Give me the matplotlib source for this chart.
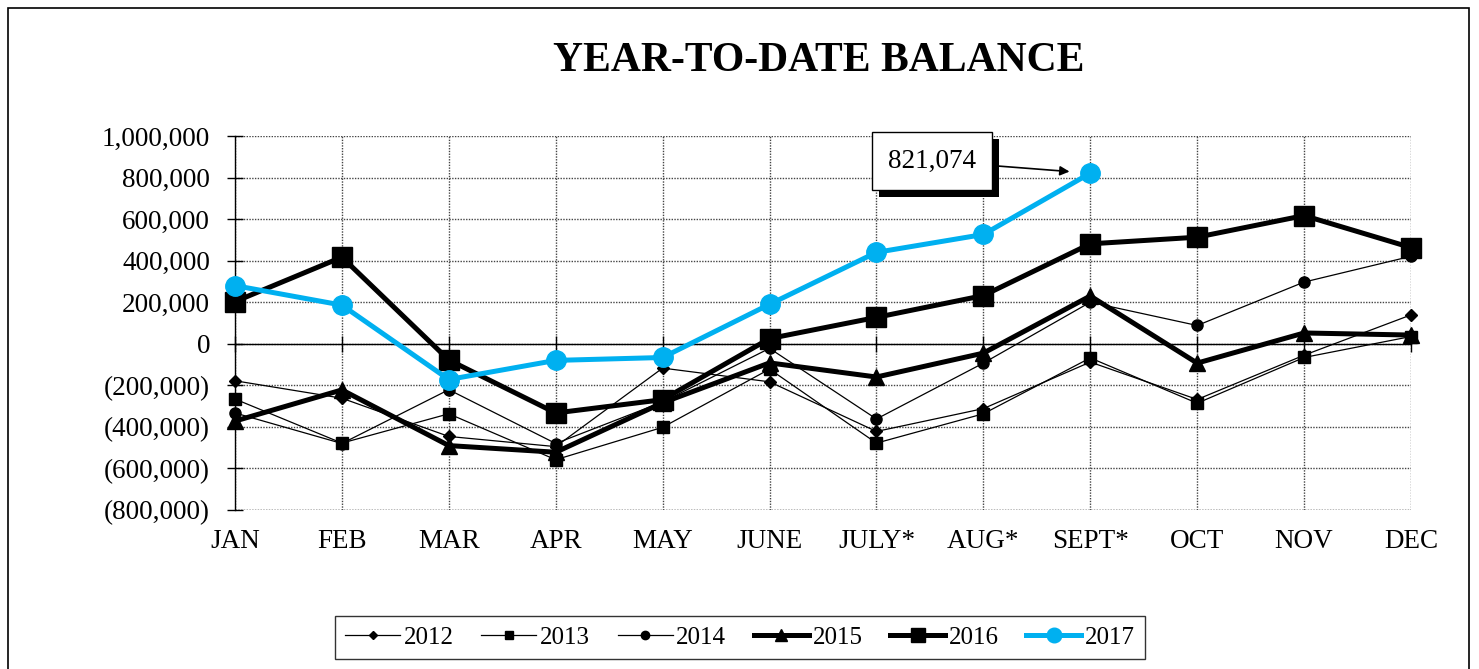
import matplotlib
matplotlib.use("Agg")
import matplotlib.pyplot as plt
import matplotlib.transforms as mtransforms
import matplotlib.patheffects as pe
from matplotlib.patches import Rectangle
from matplotlib.ticker import FuncFormatter

months = ['JAN', 'FEB', 'MAR', 'APR', 'MAY', 'JUNE', 'JULY*', 'AUG*', 'SEPT*', 'OCT', 'NOV', 'DEC']

y2012 = [-178000, -262000, -446000, -495000, -117000, -183000, -422000, -312000, -88000, -268000, -55000, 139000]
y2013 = [-266000, -478000, -337000, -558000, -402000, -122000, -478000, -337000, -68000, -286000, -66000, 35000]
y2014 = [-333000, -480000, -221000, -480000, -280000, -22000, -362000, -93000, 200000, 88000, 297000, 421000]
y2015 = [-372000, -222000, -490000, -522000, -284000, -92000, -160000, -45000, 230000, -93000, 52000, 42000]
y2016 = [203000, 417000, -78000, -333000, -269000, 25000, 127000, 232000, 481000, 513000, 617000, 463000]
y2017 = [280000, 186000, -172000, -80000, -66000, 190000, 440000, 526000, 821074]

yticks = [-800000, -600000, -400000, -200000, 0, 200000, 400000, 600000, 800000, 1000000]

SERIF = ['Liberation Serif', 'DejaVu Serif']
plt.rcParams['font.family'] = SERIF

W, H = 1479, 669
fig = plt.figure(figsize=(W / 100, H / 100), dpi=100)
ax = fig.add_axes([235 / W, 1 - 510 / H, (1411 - 235) / W, (510 - 136) / H])

BLUE = '#00B0F0'
x_all = list(range(len(months)))

series = [
    ('2012', y2012, dict(color='black', lw=0.9, marker='D', ms=6)),
    ('2013', y2013, dict(color='black', lw=0.9, marker='s', ms=8)),
    ('2014', y2014, dict(color='black', lw=0.9, marker='o', ms=8)),
    ('2015', y2015, dict(color='black', lw=3.6, marker='^', ms=11)),
    ('2016', y2016, dict(color='black', lw=3.6, marker='s', ms=14)),
    ('2017', y2017, dict(color=BLUE, lw=3.6, marker='o', ms=14)),
]
for lab, vals, st in series:
    ax.plot(x_all[:len(vals)], vals, label=lab, clip_on=False, zorder=3, **st)

ax.set_xlim(0, len(months) - 1)
ax.set_ylim(-800000, 1000000)
ax.set_yticks(yticks)
ax.set_xticks(x_all)

def fmt(v, pos):
    if v < 0:
        return '({:,.0f})'.format(-v)
    return '{:,.0f}'.format(v)
ax.yaxis.set_major_formatter(FuncFormatter(fmt))

ax.grid(True, color='#444444', linestyle=(0, (1, 1)), linewidth=1.0, zorder=0)
for s in ['top', 'right']:
    ax.spines[s].set_visible(False)
ax.spines['left'].set_linewidth(1.0)
ax.spines['bottom'].set_position(('data', 0))
ax.spines['bottom'].set_linewidth(1.0)
ax.tick_params(axis='y', direction='inout', length=12, width=1, labelsize=19.5, pad=12)
ax.tick_params(axis='x', direction='inout', length=12, width=1, labelbottom=False)
ax.axhline(-800000, color='#444444', linestyle=(0, (1, 1)), linewidth=1.0, zorder=0)

trans = mtransforms.blended_transform_factory(ax.transData, ax.transAxes)
for i, m in enumerate(months):
    ax.text(i, -0.085, m, transform=trans, ha='center', va='center', fontsize=19.5)

last_i = len(y2017) - 1
ann = ax.annotate('{:,.0f}'.format(y2017[last_i]), xy=(last_i, y2017[last_i]),
                  xytext=(6.52, 880000), textcoords='data',
                  ha='center', va='center', fontsize=19.5,
                  bbox=dict(boxstyle='square,pad=0.6', fc='white', ec='black', lw=1),
                  arrowprops=dict(arrowstyle='-|>', color='black', lw=1.2, shrinkA=0, shrinkB=15,
                                  mutation_scale=14),
                  zorder=5)
ann.get_bbox_patch().set_path_effects([pe.SimplePatchShadow(offset=(5, -5), shadow_rgbFace='black', alpha=1.0),
                                       pe.Normal()])

fig.text(819 / W, 1 - 61 / H, 'YEAR-TO-DATE BALANCE', ha='center', va='center',
         fontsize=30, fontweight='bold', family=SERIF)

leg = fig.legend(loc='center', bbox_to_anchor=(740 / W, 1 - 637.5 / H), ncol=6,
                 fontsize=18, frameon=True, fancybox=False, edgecolor='black',
                 handlelength=2.2, columnspacing=1.1, handletextpad=0.15, borderpad=0.4,
                 markerscale=0.75)
leg.get_frame().set_linewidth(1.0)

fig.patches.append(Rectangle((8 / W, -0.02), (1469 - 8) / W, 1 - 8 / H + 0.02,
                             transform=fig.transFigure, fill=False, ec='black', lw=1.2))

fig.savefig('out.png', dpi=100)
